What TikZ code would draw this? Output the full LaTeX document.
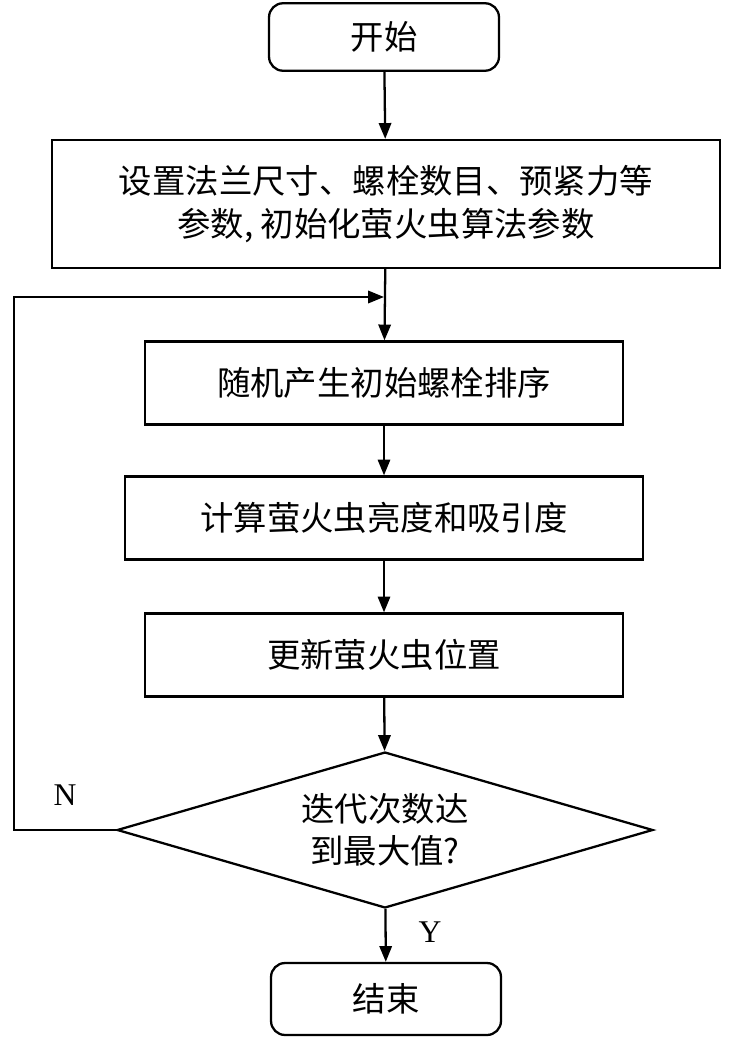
\documentclass[tikz,border=0pt]{standalone}
\usepackage{fontspec}
\setmainfont{Liberation Serif}
\newfontfamily\cjk{Noto Sans CJK SC}
\usetikzlibrary{arrows.meta,shapes.geometric}
\tikzset{
  base/.style = {draw=black, line width=1.3pt, align=center, inner sep=0pt,
    font=\cjk\fontsize{19}{24}\selectfont},
  term/.style = {base, rounded corners=8pt, minimum width=4.6cm, minimum height=1.35cm},
  proc/.style = {base, rectangle, minimum height=1.66cm},
  dec/.style  = {base, diamond, minimum width=10.72cm, minimum height=3.12cm},
  txt/.style  = {align=center, font=\cjk\fontsize{19}{24}\selectfont},
  flow/.style = {line width=1.3pt, -{Triangle[length=9pt,width=7pt]}},
  lab/.style  = {font=\fontsize{18}{20}\selectfont}
}
\begin{document}
\begin{tikzpicture}[x=0.02cm, y=-0.02cm]
  \useasboundingbox (0,0) rectangle (735,1040);
  \node [term] (start) at (384,37) {开始};
  \node [proc, minimum width=13.36cm, minimum height=2.56cm] (init) at (386,204)
    {设置法兰尺寸、螺栓数目、预紧力等\\参数, 初始化萤火虫算法参数};
  \node [proc, minimum width=9.56cm] (rand) at (384,383) {随机产生初始螺栓排序};
  \node [proc, minimum width=10.36cm] (calc) at (384,518) {计算萤火虫亮度和吸引度};
  \node [proc, minimum width=9.56cm] (upd) at (384,655) {更新萤火虫位置};
  \node [dec] (chk) at (385,830) {};
  \node [txt] (chktxt) at (chk) {迭代次数达\\到最大值?};
  \node [term, minimum height=1.44cm] (stop) at (386,999) {结束};
  \coordinate (ret) at (384,297);
  % main flow
  \draw [flow] (start) -- (init);
  \draw [flow] (init) -- (rand);
  \draw [flow] (rand) -- (calc);
  \draw [flow] (calc) -- (upd);
  \draw [flow] (upd) -- (chk);
  \draw [flow] (chk) -- (stop);
  % loop back
  \draw [flow] (chk.west) -- (14,830) -- (14,297) -- (ret);
  \node [lab] (n) at (65,795) {N};
  \node [lab] (y) at (430,932) {Y};
\end{tikzpicture}
\end{document}
